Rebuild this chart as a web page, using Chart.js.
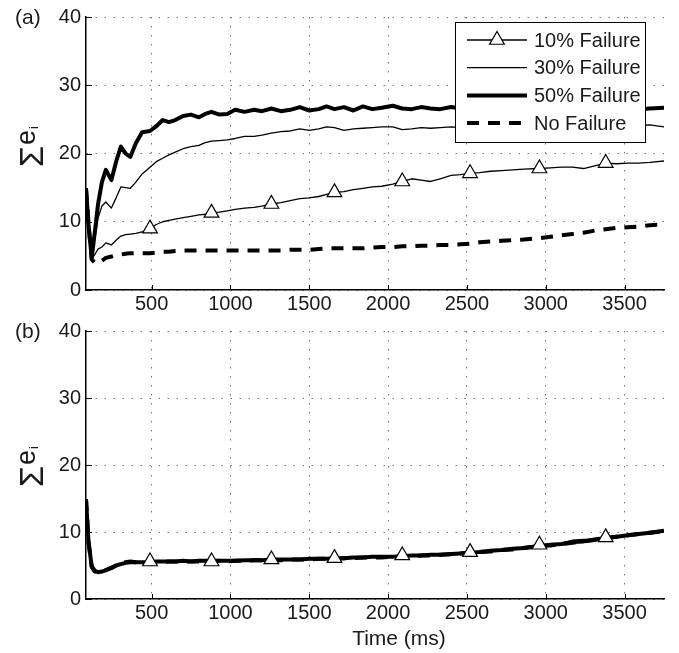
<!DOCTYPE html>
<html>
<head>
<meta charset="utf-8">
<script src="https://cdn.jsdelivr.net/npm/chart.js@4.4.1/dist/chart.umd.min.js"></script>
<style>
  html, body { margin: 0; padding: 0; background: #fff; }
  #wrap { position: relative; width: 679px; height: 653px; overflow: hidden; }
  canvas { position: absolute; left: 0; }
  #panelA { top: 0; }
  #panelB { top: 314px; }
</style>
</head>
<body>
<div id="wrap">
  <canvas id="panelA" width="679" height="318"></canvas>
  <canvas id="panelB" width="679" height="339"></canvas>
</div>
<script>
// --- data ---
const timeMs = [84, 100, 120, 140, 160, 185, 210, 245, 275, 305, 335, 365, 400, 440, 490,
  530, 570, 610, 650, 700, 750, 800, 840, 880, 930, 980, 1030, 1090, 1150, 1200,
  1260, 1320, 1380, 1440, 1500, 1560, 1610, 1660, 1720, 1780, 1840, 1900, 1960, 2030, 2090,
  2150, 2210, 2270, 2330, 2400, 2460, 2520, 2580, 2650, 2720, 2790, 2860, 2960, 3030, 3100,
  3170, 3240, 3310, 3380, 3450, 3520, 3590, 3660, 3750];

// times where the 10% curve carries a triangle marker
const markerTimes = [490, 880, 1260, 1660, 2090, 2520, 2960, 3380];

const seriesNames = ['10% Failure', '30% Failure', '50% Failure', 'No Failure'];
const xTicks = [500, 1000, 1500, 2000, 2500, 3000, 3500];
const yTicks = [0, 10, 20, 30, 40];

// panel (a)
const fail10A = [14.9, 9.6, 4.6, 5.2, 6.0, 6.3, 6.9, 6.6, 7.3, 7.9, 8.1, 8.2, 8.3, 8.5, 9.0,
  9.6, 10.0, 10.2, 10.4, 10.6, 10.8, 11.0, 11.1, 11.3, 11.4, 11.6, 11.8, 12.0, 12.1, 12.3,
  12.6, 12.8, 13.1, 13.4, 13.5, 13.7, 14.0, 14.3, 14.4, 14.7, 14.9, 15.1, 15.2, 15.5, 15.9,
  16.3, 16.1, 15.9, 16.3, 16.8, 16.9, 17.1, 17.2, 17.4, 17.5, 17.6, 17.7, 17.8, 17.9, 18.0,
  18.0, 17.8, 18.2, 18.6, 18.5, 18.6, 18.6, 18.7, 18.9];
const fail30A = [14.9, 9.6, 4.7, 7.5, 10.5, 12.3, 12.9, 12.0, 13.5, 15.1, 15.0, 14.9, 15.8, 17.0, 18.0,
  18.8, 19.3, 19.8, 20.2, 20.7, 21.0, 21.2, 21.6, 21.8, 21.9, 22.0, 22.2, 22.5, 22.5, 22.7,
  23.0, 23.2, 23.3, 23.6, 23.4, 23.6, 23.9, 23.8, 23.4, 23.6, 23.7, 23.8, 23.9, 23.9, 23.5,
  23.6, 23.8, 23.7, 23.8, 23.9, 23.8, 23.9, 24.0, 23.8, 23.9, 24.0, 23.9, 23.9, 24.0, 23.8,
  23.9, 24.0, 23.9, 24.0, 23.9, 24.0, 24.1, 24.2, 23.9];
const fail50A = [14.9, 9.6, 4.7, 8.5, 12.5, 15.8, 17.6, 16.1, 18.8, 21.0, 20.0, 19.5, 21.5, 23.1, 23.3,
  24.0, 24.9, 24.6, 24.9, 25.5, 25.7, 25.3, 25.8, 26.1, 25.7, 25.8, 26.4, 26.1, 26.4, 26.2,
  26.6, 26.2, 26.4, 26.8, 26.3, 26.5, 26.9, 26.5, 26.8, 26.3, 26.9, 26.5, 26.7, 27.0, 26.6,
  26.5, 26.8, 26.6, 26.5, 26.8, 26.6, 26.8, 26.5, 26.8, 26.6, 26.9, 26.6, 26.8, 26.5, 26.8,
  26.6, 26.8, 26.5, 26.8, 26.6, 26.8, 26.5, 26.6, 26.7];
const noFailA = [14.9, 9.6, 4.5, 4.0, 3.9, 4.3, 4.7, 4.9, 5.1, 5.2, 5.3, 5.4, 5.4, 5.4, 5.4,
  5.5, 5.6, 5.6, 5.7, 5.8, 5.8, 5.8, 5.8, 5.8, 5.8, 5.8, 5.8, 5.8, 5.8, 5.8,
  5.8, 5.8, 5.9, 5.9, 5.9, 6.0, 6.1, 6.1, 6.1, 6.1, 6.1, 6.2, 6.3, 6.3, 6.4,
  6.4, 6.5, 6.5, 6.6, 6.6, 6.7, 6.8, 7.0, 7.1, 7.2, 7.3, 7.4, 7.6, 7.8, 8.0,
  8.2, 8.4, 8.7, 8.9, 9.1, 9.2, 9.3, 9.5, 9.6];

// panel (b)
const fail10B = [14.9, 8.6, 4.8, 4.1, 4.0, 4.2, 4.3, 4.7, 5.0, 5.3, 5.5, 5.6, 5.5, 5.4, 5.6,
  5.5, 5.6, 5.6, 5.6, 5.6, 5.6, 5.6, 5.6, 5.6, 5.7, 5.7, 5.7, 5.7, 5.8, 5.8,
  5.9, 5.8, 5.9, 5.9, 6.0, 6.0, 6.0, 6.1, 6.1, 6.1, 6.2, 6.2, 6.3, 6.3, 6.5,
  6.4, 6.5, 6.5, 6.6, 6.7, 6.8, 7.0, 7.0, 7.1, 7.3, 7.4, 7.6, 8.1, 8.1, 8.3,
  8.8, 8.9, 8.9, 9.2, 9.3, 9.5, 9.7, 9.9, 10.1];
const fail30B = [14.9, 8.5, 4.8, 4.1, 4.0, 4.1, 4.4, 4.7, 5.1, 5.3, 5.5, 5.6, 5.6, 5.5, 5.5,
  5.5, 5.6, 5.6, 5.6, 5.6, 5.7, 5.6, 5.7, 5.7, 5.7, 5.7, 5.7, 5.7, 5.8, 5.8,
  5.8, 5.9, 5.9, 5.9, 6.0, 6.0, 6.0, 6.1, 6.1, 6.1, 6.2, 6.2, 6.3, 6.3, 6.4,
  6.4, 6.5, 6.6, 6.6, 6.7, 6.8, 6.9, 7.0, 7.2, 7.3, 7.5, 7.6, 7.8, 8.0, 8.2,
  8.5, 8.7, 8.8, 9.0, 9.2, 9.5, 9.7, 9.9, 10.1];
const fail50B = [14.9, 8.6, 4.9, 4.2, 4.0, 4.1, 4.3, 4.6, 5.0, 5.2, 5.4, 5.5, 5.5, 5.5, 5.5,
  5.6, 5.6, 5.6, 5.6, 5.7, 5.6, 5.7, 5.7, 5.7, 5.7, 5.7, 5.7, 5.8, 5.8, 5.8,
  5.9, 5.9, 5.9, 5.9, 6.0, 6.0, 6.0, 6.1, 6.1, 6.2, 6.2, 6.3, 6.3, 6.3, 6.4,
  6.5, 6.5, 6.6, 6.6, 6.7, 6.8, 6.9, 7.0, 7.2, 7.3, 7.5, 7.6, 7.9, 8.1, 8.2,
  8.5, 8.6, 8.9, 9.1, 9.3, 9.5, 9.7, 9.9, 10.2];
const noFailB = [14.9, 8.5, 4.8, 4.1, 4.0, 4.1, 4.3, 4.7, 5.0, 5.3, 5.5, 5.6, 5.5, 5.4, 5.5,
  5.5, 5.5, 5.6, 5.6, 5.6, 5.6, 5.6, 5.6, 5.6, 5.7, 5.6, 5.7, 5.7, 5.8, 5.8,
  5.8, 5.8, 5.9, 5.9, 5.9, 6.0, 6.0, 6.0, 6.1, 6.1, 6.2, 6.2, 6.2, 6.3, 6.4,
  6.4, 6.5, 6.5, 6.6, 6.7, 6.8, 6.9, 7.0, 7.1, 7.3, 7.4, 7.6, 7.9, 8.0, 8.2,
  8.4, 8.6, 8.8, 9.1, 9.3, 9.5, 9.7, 9.9, 10.1];

// --- drawing ---
const FONT = '"Liberation Sans", Arial, Helvetica, sans-serif';
Chart.defaults.font.family = FONT;
Chart.defaults.color = '#1a1a1a';

const toPoints = arr => timeMs.map((t, i) => ({ x: t, y: arr[i] }));

function triangle(ctx, x, y, r) {
  ctx.beginPath();
  ctx.moveTo(x, y - r);
  ctx.lineTo(x + r * 0.866, y + r * 0.5);
  ctx.lineTo(x - r * 0.866, y + r * 0.5);
  ctx.closePath();
  ctx.fill();
  ctx.stroke();
}

// inward ticks, panel letter, y label, legend, x title
const decor = {
  id: 'decor',
  afterDraw(chart, args, opts) {
    const { ctx, chartArea: a, scales: { x, y } } = chart;
    ctx.save();

    ctx.strokeStyle = '#000';
    ctx.lineWidth = 1;
    ctx.beginPath();
    xTicks.forEach(v => {
      const px = Math.round(x.getPixelForValue(v)) + 0.5;
      ctx.moveTo(px, a.bottom);
      ctx.lineTo(px, a.bottom - 5);
    });
    yTicks.forEach(v => {
      const py = Math.round(y.getPixelForValue(v)) + 0.5;
      ctx.moveTo(a.left, py);
      ctx.lineTo(a.left + 6, py);
    });
    ctx.stroke();

    ctx.fillStyle = '#1a1a1a';
    ctx.font = '21px ' + FONT;
    ctx.textAlign = 'left';
    ctx.textBaseline = 'middle';
    ctx.fillText(opts.letter, 15, opts.letterY);

    // Σe_i, rotated
    ctx.save();
    ctx.translate(35, opts.ylabelY);
    ctx.rotate(-Math.PI / 2);
    ctx.textBaseline = 'alphabetic';
    ctx.font = '34px ' + FONT;
    ctx.fillText('Σ', 0, 8);
    const ws = ctx.measureText('Σ').width;
    ctx.font = '27px ' + FONT;
    ctx.fillText('e', ws + 1, 0);
    const we = ctx.measureText('e').width;
    ctx.font = '13px ' + FONT;
    ctx.fillText('i', ws + we + 2, 3);
    ctx.restore();

    if (opts.legend) {
      const L = a.right - 209, T = a.top + 5, W = 190, H = 120;
      ctx.fillStyle = '#fff';
      ctx.fillRect(L, T, W, H);
      ctx.strokeStyle = '#000';
      ctx.lineWidth = 1;
      ctx.strokeRect(L + 0.5, T + 0.5, W, H);
      chart.data.datasets.forEach((ds, i) => {
        const ry = T + 18 + i * 27.7;
        ctx.save();
        ctx.strokeStyle = '#000';
        ctx.lineWidth = ds.borderWidth;
        ctx.setLineDash(ds.borderDash || []);
        ctx.beginPath();
        ctx.moveTo(L + 12, ry);
        ctx.lineTo(L + 72, ry);
        ctx.stroke();
        ctx.setLineDash([]);
        if (ds.pointStyle === 'triangle') {
          ctx.fillStyle = '#fff';
          ctx.lineWidth = 1.2;
          triangle(ctx, L + 42, ry, 8.5);
        }
        ctx.restore();
        ctx.fillStyle = '#1a1a1a';
        ctx.font = '20px ' + FONT;
        ctx.textBaseline = 'middle';
        ctx.fillText(ds.label, L + 79, ry + 1);
      });
    }

    if (opts.xTitle) {
      ctx.fillStyle = '#1a1a1a';
      ctx.font = '21px ' + FONT;
      ctx.textAlign = 'center';
      ctx.textBaseline = 'middle';
      ctx.fillText(opts.xTitle, 399, opts.xTitleY);
    }
    ctx.restore();
  }
};

function makePanel(id, series, cfg) {
  const styles = [
    { borderWidth: 1.3, pointStyle: 'triangle' },
    { borderWidth: 1.3 },
    { borderWidth: 4 },
    { borderWidth: 4, borderDash: [12, 9] }
  ];
  const datasets = series.map((arr, i) => Object.assign({
    label: seriesNames[i],
    data: toPoints(arr),
    borderColor: '#000',
    backgroundColor: '#fff',
    fill: false,
    tension: 0,
    borderCapStyle: 'butt',
    borderJoinStyle: 'round',
    pointRadius: 0,
    order: 3 - i
  }, styles[i]));
  // triangles on the 10% curve
  datasets[0].pointRadius = c => markerTimes.includes(timeMs[c.dataIndex]) ? 8.5 : 0;
  datasets[0].pointBorderColor = '#000';
  datasets[0].pointBackgroundColor = '#fff';
  datasets[0].pointBorderWidth = 1.2;
  datasets[0].order = 0;

  const tickFont = { size: 20, family: FONT };
  return new Chart(document.getElementById(id), {
    type: 'line',
    data: { datasets },
    plugins: [decor],
    options: {
      responsive: false,
      animation: false,
      devicePixelRatio: 1,
      layout: { padding: { top: cfg.padTop, right: 15, left: 0, bottom: 0 } },
      plugins: {
        legend: { display: false },
        tooltip: { enabled: false },
        decor: cfg.decor
      },
      scales: {
        x: {
          type: 'linear', min: 84, max: 3750,
          afterBuildTicks: s => { s.ticks = xTicks.map(v => ({ value: v })); },
          afterFit: s => { s.height = cfg.xAxisH; },
          grid: { color: '#7a7a7a', lineWidth: 1, drawTicks: false },
          border: { display: true, color: '#000', width: 1.5, dash: [1.5, 7.5] },
          ticks: { font: tickFont, color: '#1a1a1a', padding: 2, maxRotation: 0, autoSkip: false,
            callback: v => String(v) }
        },
        y: {
          type: 'linear', min: 0, max: 40,
          afterBuildTicks: s => { s.ticks = yTicks.map(v => ({ value: v })); },
          afterFit: s => { s.width = 86; },
          grid: { color: '#7a7a7a', lineWidth: 1, drawTicks: false },
          border: { display: true, color: '#000', width: 1.5, dash: [1.5, 7.5] },
          ticks: { font: tickFont, color: '#1a1a1a', padding: 5, callback: v => String(v) }
        }
      }
    }
  });
}

makePanel('panelA', [fail10A, fail30A, fail50A, noFailA], {
  padTop: 17, xAxisH: 28,
  decor: { letter: '(a)', letterY: 18, ylabelY: 167, legend: true }
});
makePanel('panelB', [fail10B, fail30B, fail50B, noFailB], {
  padTop: 13, xAxisH: 54,
  decor: { letter: '(b)', letterY: 18, ylabelY: 173, xTitle: 'Time (ms)', xTitleY: 325 }
});
</script>
</body>
</html>
